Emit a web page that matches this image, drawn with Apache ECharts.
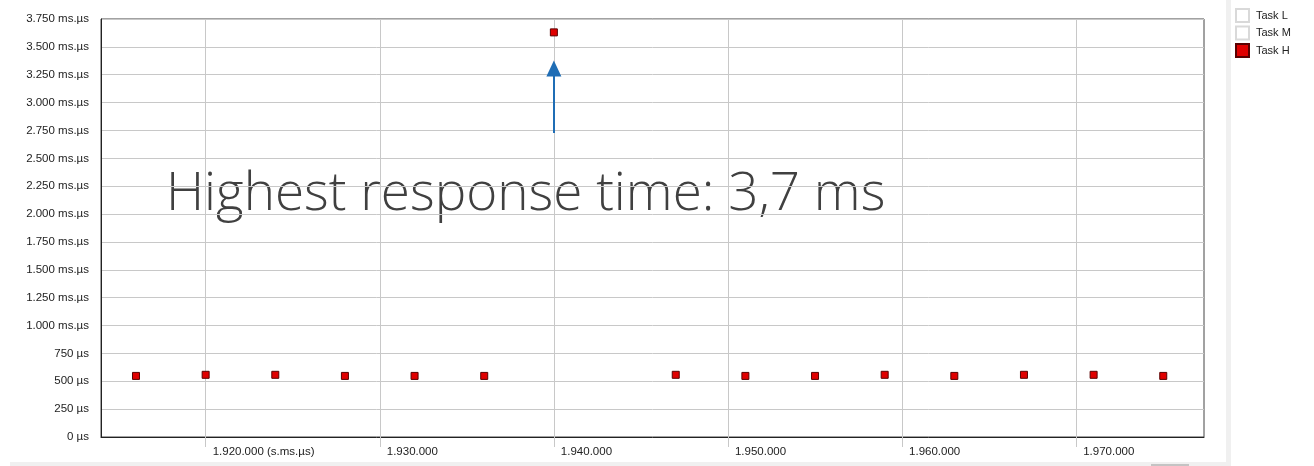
<!DOCTYPE html>
<html>
<head>
<meta charset="utf-8">
<script src="https://cdn.jsdelivr.net/npm/echarts@6/dist/echarts.min.js"></script>
<style>html,body{margin:0;padding:0;background:#fff;}#c{width:1314px;height:466px;}</style>
</head>
<body>
<div id="c"></div>
<script>
// time stamps (µs)
const timeValues = [1916000, 1920000, 1924000, 1928000, 1932000, 1936000, 1940000, 1947000, 1951000, 1955000, 1959000, 1963000, 1967000, 1971000, 1975000];
// response time of Task H (µs)
const taskH = [548, 558, 558, 548, 548, 548, 3630, 558, 548, 548, 558, 548, 558, 558, 548];
const seriesNames = ['Task L', 'Task M', 'Task H'];
const xTickValues = [1920000, 1930000, 1940000, 1950000, 1960000, 1970000];
const xMin = 1913990, xMax = 1977340;
const yMin = 0, yMax = 3750, yStep = 250;
// annotation arrow (x, from, to) and text
const arrowX = 1940000, arrowFrom = 2727, arrowTo = 3305;
const noteText = 'Highest response time: 3,7 ms';

function fmtY(v) {
  if (v < 1000) return v + ' µs';
  const ms = Math.floor(v / 1000), us = v % 1000;
  return ms + '.' + String(us).padStart(3, '0') + ' ms.µs';
}
function fmtX(v) {
  const s = Math.floor(v / 1000000), ms = Math.floor(v / 1000) % 1000, us = v % 1000;
  let t = s + '.' + String(ms).padStart(3, '0') + '.' + String(us).padStart(3, '0');
  if (v === xTickValues[0]) t += ' (s.ms.µs)';
  return t;
}

const chart = echarts.init(document.getElementById('c'), null, {renderer: 'canvas'});
const font = 'Liberation Sans';
chart.setOption({
  animation: false,
  backgroundColor: '#fff',
  grid: {left: 101, right: 110, top: 19, bottom: 29, show: true, borderColor: '#444', borderWidth: 1, containLabel: false},
  legend: {
    orient: 'vertical', left: 1235, top: 8, padding: 0, itemWidth: 13, itemHeight: 13, itemGap: 2.5,
    icon: 'rect', selectedMode: false,
    textStyle: {fontFamily: font, fontSize: 11, color: '#222', padding: [0, 0, 0, 2]},
    data: seriesNames
  },
  xAxis: {
    type: 'value', min: xMin, max: xMax, minInterval: 10000, maxInterval: 10000,
    axisLine: {show: true, lineStyle: {color: '#222', width: 1}},
    axisTick: {show: true, length: 10, customValues: xTickValues, lineStyle: {color: '#c8c8c8'}},
    splitLine: {show: true, lineStyle: {color: '#c8c8c8', width: 1}},
    axisLabel: {customValues: xTickValues, formatter: fmtX, align: 'left', padding: [0, 0, 0, 7], margin: 9,
      fontFamily: font, fontSize: 11.5, color: '#222'}
  },
  yAxis: {
    type: 'value', min: yMin, max: yMax, interval: yStep,
    axisLine: {show: true, lineStyle: {color: '#222', width: 1}},
    axisTick: {show: false},
    splitLine: {show: true, lineStyle: {color: '#c8c8c8', width: 1}},
    axisLabel: {formatter: fmtY, margin: 12, fontFamily: font, fontSize: 11.5, color: '#222'}
  },
  series: [
    {name: 'Task L', type: 'scatter', data: [], itemStyle: {color: '#fff', borderColor: '#d0d0d0', borderWidth: 1}},
    {name: 'Task M', type: 'scatter', data: [], itemStyle: {color: '#fff', borderColor: '#d0d0d0', borderWidth: 1}},
    {name: 'Task H', type: 'scatter', symbol: 'rect', symbolSize: 7,
      data: timeValues.map((t, i) => [t, taskH[i]]),
      itemStyle: {color: '#e00000', borderColor: '#5a0000', borderWidth: 1, opacity: 1},
      markLine: {
        silent: true, symbol: ['none', 'triangle'], symbolSize: [15, 16],
        label: {show: false},
        lineStyle: {color: '#1f6db5', width: 2, type: 'solid'},
        emphasis: {disabled: true},
        data: [[{coord: [arrowX, arrowFrom]}, {coord: [arrowX, arrowTo]}]]
      }
    }
  ],
  graphic: [
    {type: 'rect', shape: {x: 1226, y: 0, width: 5, height: 466}, style: {fill: '#f0f0f0'}, silent: true},
    {type: 'rect', shape: {x: 10, y: 462, width: 1216, height: 4}, style: {fill: '#f0f0f0'}, silent: true},
    {type: 'rect', shape: {x: 1151, y: 464, width: 38, height: 2}, style: {fill: '#c4c4c4'}, silent: true},
    {type: 'text', x: 166, y: 221, silent: true,
      style: {text: noteText, fill: '#404040', font: '300 53px "Open Sans"', verticalAlign: 'bottom'}}
  ]
});
</script>
</body>
</html>
